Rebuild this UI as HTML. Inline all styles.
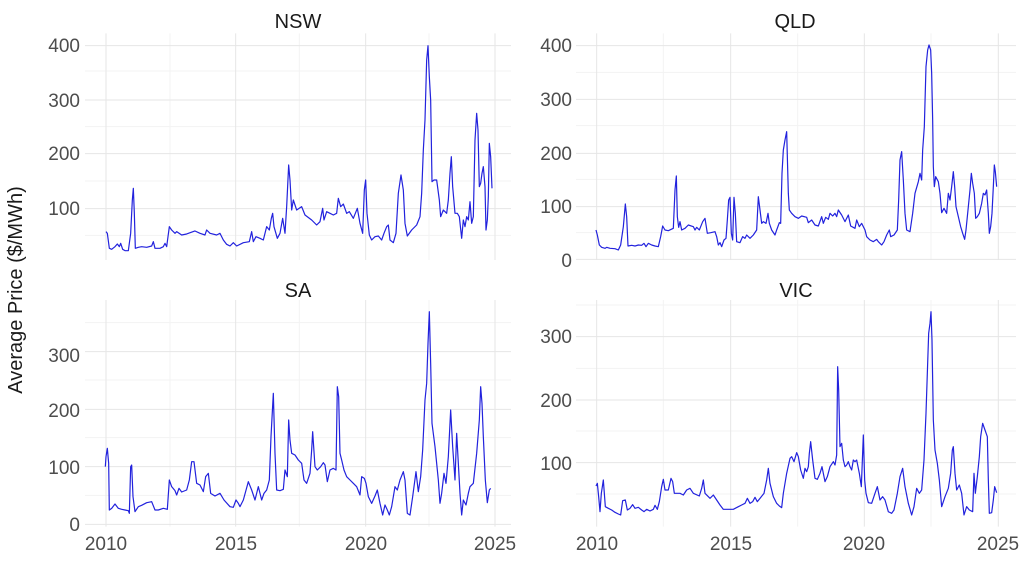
<!DOCTYPE html>
<html><head><meta charset="utf-8"><style>
html,body{margin:0;padding:0;background:#fff;}
svg{display:block;font-family:"Liberation Sans",sans-serif;}
.t{font-size:20px;fill:#1a1a1a;text-anchor:middle;}
.yl{font-size:19px;fill:#4d4d4d;text-anchor:end;}
.xl{font-size:19px;fill:#4d4d4d;text-anchor:middle;}
.s{fill:none;stroke:#2222dd;stroke-width:1.2;vector-effect:non-scaling-stroke;stroke-linejoin:round;}
</style></head><body>
<svg width="1024" height="579" viewBox="0 0 1024 579" xmlns="http://www.w3.org/2000/svg">
<text x="22" y="290" transform="rotate(-90 22 290)" style="font-size:20px;fill:#1a1a1a;text-anchor:middle">Average Price ($/MWh)</text>

<g transform="scale(0.33333)">
 <g stroke="#f3f3f3" stroke-width="3">
  <line x1="255" x2="1533" y1="213" y2="213"/><line x1="255" x2="1533" y1="380" y2="380"/><line x1="255" x2="1533" y1="543" y2="543"/><line x1="255" x2="1533" y1="706" y2="706"/>
  <line x1="510" x2="510" y1="100" y2="780"/><line x1="898" x2="898" y1="100" y2="780"/><line x1="1287" x2="1287" y1="100" y2="780"/>
 </g>
 <g stroke="#e6e6e6" stroke-width="3">
  <line x1="255" x2="1533" y1="137" y2="137"/><line x1="255" x2="1533" y1="300" y2="300"/><line x1="255" x2="1533" y1="461" y2="461"/><line x1="255" x2="1533" y1="626" y2="626"/>
  <line x1="318" x2="318" y1="100" y2="780"/><line x1="707" x2="707" y1="100" y2="780"/><line x1="1097" x2="1097" y1="100" y2="780"/><line x1="1485" x2="1485" y1="100" y2="780"/>
 </g>
 <polyline class="s" points="318,695 322,700 328,745 335,748 345,740 352,732 358,740 362,730 368,748 375,752 385,752 392,700 397,600 400,565 403,640 406,745 415,742 425,740 440,742 455,738 460,725 465,745 480,745 490,740 495,730 500,740 508,680 515,690 525,700 530,695 545,705 560,702 585,693 600,700 615,705 620,690 630,700 650,705 660,700 670,720 680,733 690,738 700,728 710,738 730,728 748,725 755,695 760,725 768,710 780,715 790,720 800,680 808,690 814,655 818,640 822,680 832,715 840,700 848,655 855,700 860,620 866,495 870,540 875,630 880,600 890,630 905,620 915,645 935,660 950,675 960,665 968,625 972,660 980,635 990,640 1000,645 1010,640 1015,595 1022,620 1030,612 1040,640 1048,635 1060,655 1072,625 1080,670 1088,700 1093,570 1097,540 1101,640 1108,705 1115,720 1125,710 1135,708 1145,720 1152,700 1160,680 1165,675 1170,720 1180,728 1188,700 1195,580 1203,525 1210,570 1215,670 1222,708 1235,690 1250,675 1260,650 1265,580 1270,450 1275,360 1280,180 1284,137 1288,230 1292,300 1296,545 1302,540 1310,540 1318,600 1322,650 1330,630 1340,640 1345,600 1350,520 1354,470 1358,560 1365,640 1372,640 1378,650 1385,715 1390,660 1395,680 1400,650 1405,660 1410,605 1415,670 1420,650 1425,420 1430,340 1434,390 1438,560 1442,550 1446,520 1450,500 1455,560 1458,690 1462,660 1465,590 1468,430 1472,470 1476,565"/>
</g>
<text class="t" x="298" y="28">NSW</text>
<text class="yl" x="80" y="52">400</text><text class="yl" x="80" y="107">300</text><text class="yl" x="80" y="160">200</text><text class="yl" x="80" y="215">100</text>

<g transform="translate(540,0) scale(0.33333)">
 <g stroke="#f3f3f3" stroke-width="3">
  <line x1="108" x2="1428" y1="217" y2="217"/><line x1="108" x2="1428" y1="377" y2="377"/><line x1="108" x2="1428" y1="538" y2="538"/><line x1="108" x2="1428" y1="698" y2="698"/>
  <line x1="370" x2="370" y1="100" y2="780"/><line x1="773" x2="773" y1="100" y2="780"/><line x1="1173" x2="1173" y1="100" y2="780"/>
 </g>
 <g stroke="#e6e6e6" stroke-width="3">
  <line x1="108" x2="1428" y1="137" y2="137"/><line x1="108" x2="1428" y1="298" y2="298"/><line x1="108" x2="1428" y1="460" y2="460"/><line x1="108" x2="1428" y1="620" y2="620"/><line x1="108" x2="1428" y1="778" y2="778"/>
  <line x1="170" x2="170" y1="100" y2="780"/><line x1="572" x2="572" y1="100" y2="780"/><line x1="973" x2="973" y1="100" y2="780"/><line x1="1375" x2="1375" y1="100" y2="780"/>
 </g>
 <polyline class="s" points="168,690 172,705 178,735 185,742 195,745 200,742 210,745 225,746 235,750 242,735 250,680 256,612 260,650 264,738 275,736 285,738 295,735 305,736 312,730 318,740 325,730 335,735 345,738 355,740 362,710 368,678 375,690 385,692 400,685 405,570 409,528 412,650 416,682 420,665 425,690 435,685 445,675 460,680 465,690 470,682 478,690 488,665 495,655 502,700 512,698 525,695 530,710 535,735 540,728 545,740 552,720 558,715 562,660 566,600 570,592 574,700 578,720 582,592 586,640 590,725 600,728 608,710 615,715 620,705 630,715 640,705 650,690 655,590 660,630 665,670 670,665 678,670 684,640 688,670 695,690 705,705 710,690 718,668 722,670 726,520 730,450 735,420 740,395 745,580 748,630 755,640 765,650 775,655 785,648 800,652 805,668 815,660 825,675 835,678 845,650 850,670 857,652 865,658 870,640 878,648 885,640 890,650 895,630 905,645 915,665 925,645 932,678 945,685 950,660 958,680 965,670 975,690 980,710 990,720 1000,725 1010,718 1015,725 1025,735 1032,725 1040,705 1048,690 1052,710 1062,705 1072,690 1076,600 1080,480 1085,455 1090,540 1095,640 1100,690 1110,695 1118,640 1125,580 1135,545 1140,520 1145,540 1148,450 1153,380 1158,200 1163,150 1167,135 1172,150 1175,220 1178,360 1180,500 1183,560 1187,530 1195,545 1200,580 1205,638 1212,625 1220,640 1225,580 1230,600 1235,560 1240,515 1244,560 1248,620 1255,650 1262,680 1268,700 1274,718 1278,690 1285,620 1290,570 1294,520 1298,550 1303,580 1307,655 1312,650 1318,640 1325,610 1330,580 1335,585 1340,570 1345,640 1348,700 1352,680 1356,640 1360,560 1363,495 1366,515 1370,560"/>
</g>
<text class="t" x="795" y="28">QLD</text>
<text class="yl" x="572" y="52">400</text><text class="yl" x="572" y="106">300</text><text class="yl" x="572" y="160">200</text><text class="yl" x="572" y="213">100</text><text class="yl" x="572" y="267">0</text>

<g transform="translate(0,280) scale(0.33333)">
 <g stroke="#f3f3f3" stroke-width="3">
  <line x1="255" x2="1533" y1="128" y2="128"/><line x1="255" x2="1533" y1="300" y2="300"/><line x1="255" x2="1533" y1="473" y2="473"/><line x1="255" x2="1533" y1="646" y2="646"/>
  <line x1="510" x2="510" y1="60" y2="740"/><line x1="898" x2="898" y1="60" y2="740"/><line x1="1287" x2="1287" y1="60" y2="740"/>
 </g>
 <g stroke="#e6e6e6" stroke-width="3">
  <line x1="255" x2="1533" y1="215" y2="215"/><line x1="255" x2="1533" y1="388" y2="388"/><line x1="255" x2="1533" y1="560" y2="560"/><line x1="255" x2="1533" y1="733" y2="733"/>
  <line x1="318" x2="318" y1="60" y2="740"/><line x1="707" x2="707" y1="60" y2="740"/><line x1="1097" x2="1097" y1="60" y2="740"/><line x1="1485" x2="1485" y1="60" y2="740"/>
 </g>
 <polyline class="s" points="316,560 318,530 322,505 326,550 328,690 335,685 345,672 355,685 365,688 375,690 385,692 388,700 392,560 395,555 399,650 405,695 415,680 425,676 440,668 455,665 465,690 475,690 490,685 502,688 508,600 515,620 525,632 530,645 537,625 545,636 560,630 568,600 575,545 582,545 590,610 600,615 610,635 617,590 625,580 632,640 645,648 660,640 672,660 690,680 700,682 708,660 715,670 720,680 730,660 745,605 755,630 765,660 775,620 785,660 792,640 800,630 808,600 813,470 817,395 820,340 825,520 830,630 840,632 850,628 855,570 862,590 866,420 870,480 875,520 885,525 895,540 905,550 912,600 920,610 930,580 935,510 938,455 945,560 952,570 962,560 970,548 975,555 982,605 990,570 1000,565 1008,570 1012,320 1016,350 1020,520 1025,540 1032,570 1040,590 1050,600 1060,610 1070,620 1080,645 1085,590 1093,595 1098,610 1105,650 1115,670 1125,648 1132,630 1140,670 1148,705 1155,675 1162,690 1168,705 1175,680 1185,620 1192,630 1200,600 1210,575 1215,600 1222,700 1230,705 1238,650 1248,575 1255,635 1262,590 1268,510 1275,360 1280,310 1284,190 1288,95 1292,250 1296,430 1305,500 1315,600 1320,670 1325,640 1332,580 1338,610 1345,530 1352,390 1358,500 1365,600 1370,460 1375,550 1380,640 1385,705 1390,660 1398,675 1405,640 1410,620 1420,610 1430,520 1438,420 1442,320 1446,370 1450,470 1456,600 1462,668 1468,630 1472,625"/>
</g>
<text class="t" x="298" y="297">SA</text>
<text class="yl" x="80" y="362">300</text><text class="yl" x="80" y="417">200</text><text class="yl" x="80" y="474">100</text><text class="yl" x="80" y="531">0</text>
<text class="xl" x="106" y="550">2010</text><text class="xl" x="236" y="550">2015</text><text class="xl" x="366" y="550">2020</text><text class="xl" x="495" y="550">2025</text>

<g transform="translate(540,280) scale(0.33333)">
 <g stroke="#f3f3f3" stroke-width="3">
  <line x1="108" x2="1428" y1="75" y2="75"/><line x1="108" x2="1428" y1="265" y2="265"/><line x1="108" x2="1428" y1="453" y2="453"/><line x1="108" x2="1428" y1="642" y2="642"/>
  <line x1="370" x2="370" y1="60" y2="740"/><line x1="773" x2="773" y1="60" y2="740"/><line x1="1173" x2="1173" y1="60" y2="740"/>
 </g>
 <g stroke="#e6e6e6" stroke-width="3">
  <line x1="108" x2="1428" y1="170" y2="170"/><line x1="108" x2="1428" y1="360" y2="360"/><line x1="108" x2="1428" y1="548" y2="548"/>
  <line x1="170" x2="170" y1="60" y2="740"/><line x1="572" x2="572" y1="60" y2="740"/><line x1="973" x2="973" y1="60" y2="740"/><line x1="1375" x2="1375" y1="60" y2="740"/>
 </g>
 <polyline class="s" points="168,618 172,610 176,650 180,695 184,640 187,620 190,600 193,640 196,680 205,685 215,690 225,697 235,702 242,705 248,662 256,660 262,690 270,685 278,674 285,685 295,682 305,690 312,695 320,688 330,693 340,688 345,676 352,688 358,665 365,620 370,598 375,630 385,630 393,595 398,605 403,640 420,640 430,645 440,630 450,625 460,640 478,648 485,625 490,600 495,640 510,655 520,645 530,660 540,675 550,688 565,688 580,688 595,680 605,675 615,670 622,655 630,670 638,665 645,652 652,665 660,655 672,640 680,600 685,565 690,610 700,650 710,670 718,678 725,683 730,640 740,580 750,535 755,530 762,545 770,518 775,530 782,570 790,595 795,565 800,575 805,560 808,520 812,485 818,540 825,595 832,598 840,580 846,560 850,580 855,605 862,590 870,560 880,545 885,555 890,525 893,260 896,330 900,500 905,490 910,540 915,560 920,555 925,545 930,560 935,570 940,540 945,545 950,540 958,580 964,620 970,465 974,600 978,640 985,668 995,670 1005,640 1012,620 1020,660 1028,650 1035,660 1045,695 1055,700 1062,690 1072,640 1080,590 1088,565 1095,620 1105,670 1115,705 1122,680 1130,625 1138,640 1145,630 1152,540 1158,400 1162,280 1166,160 1170,130 1173,95 1176,180 1180,420 1185,510 1192,550 1198,600 1205,680 1215,650 1225,625 1232,580 1237,510 1240,500 1245,580 1250,630 1258,615 1265,640 1272,705 1280,680 1288,690 1298,695 1302,580 1306,640 1312,590 1318,530 1322,470 1328,430 1335,450 1342,470 1345,600 1348,700 1355,698 1360,660 1364,620 1370,638"/>
</g>
<text class="t" x="796" y="297">VIC</text>
<text class="yl" x="572" y="343">300</text><text class="yl" x="572" y="407">200</text><text class="yl" x="572" y="470">100</text>
<text class="xl" x="597" y="550">2010</text><text class="xl" x="731" y="550">2015</text><text class="xl" x="864" y="550">2020</text><text class="xl" x="998" y="550">2025</text>
</svg>
</body></html>
